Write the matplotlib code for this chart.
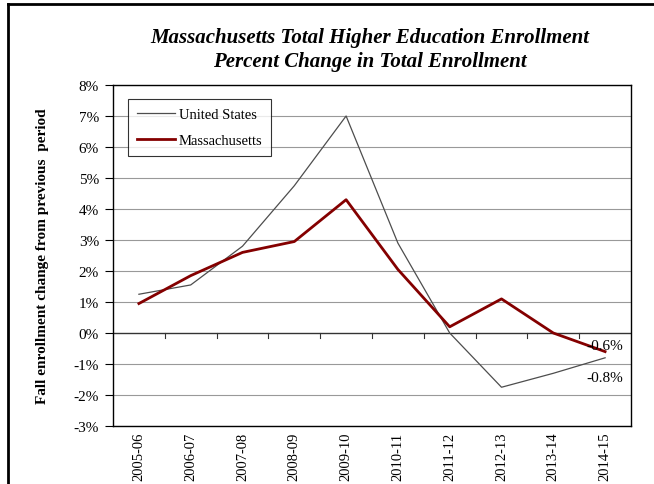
import matplotlib.pyplot as plt
from matplotlib.lines import Line2D

years = ["2005-06", "2006-07", "2007-08", "2008-09", "2009-10",
         "2010-11", "2011-12", "2012-13", "2013-14", "2014-15"]
us = [1.25, 1.55, 2.8, 4.75, 7.0, 2.9, 0.0, -1.75, -1.3, -0.8]
ma = [0.95, 1.85, 2.6, 2.95, 4.3, 2.05, 0.2, 1.1, 0.0, -0.6]
yticks = [-3, -2, -1, 0, 1, 2, 3, 4, 5, 6, 7, 8]

plt.rcParams["font.family"] = "Liberation Serif"

fig = plt.figure(figsize=(6.54, 4.85), dpi=100)
ax = fig.add_axes([113/654, 1-427/485, 518/654, 341/485])

x = list(range(len(years)))
ax.plot(x, us, color="#4d4d4d", lw=0.9, label="United States")
ax.plot(x, ma, color="#840000", lw=2.0, label="Massachusetts")

ax.set_xlim(-0.5, len(years)-0.5)
ax.set_ylim(-3, 8)
ax.set_yticks(yticks)
ax.set_yticklabels([f"{v}%" for v in yticks], fontsize=11)
for v in yticks:
    if v != 0:
        ax.axhline(v, color="#999999", lw=0.8, zorder=0)
ax.axhline(0, color="#333333", lw=1.0, zorder=1)
ax.tick_params(axis="y", length=6, direction="out", width=0.8, pad=4)

# x ticks at category boundaries on the zero line
for b in range(1, len(years)):
    ax.plot([b-0.5, b-0.5], [0, -0.15], color="#333333", lw=0.8)
ax.set_xticks(x)
ax.set_xticklabels(years, rotation=90, fontsize=10.5)
ax.tick_params(axis="x", length=0, pad=4)

for s in ax.spines.values():
    s.set_linewidth(1.0)

ax.text(9, -0.39, "-0.6%", fontsize=11, ha="center", va="center")
ax.text(9, -1.43, "-0.8%", fontsize=11, ha="center", va="center")

ax.set_ylabel("Fall enrollment change from previous  period", fontsize=11,
              fontweight="bold", labelpad=18)

fig.text(0.565, 1-38/485, "Massachusetts Total Higher Education Enrollment",
         fontsize=15, fontweight="bold", fontstyle="italic", ha="center", va="center")
fig.text(0.565, 1-62/485, "Percent Change in Total Enrollment",
         fontsize=15, fontweight="bold", fontstyle="italic", ha="center", va="center")

leg = ax.legend(loc="upper left", bbox_to_anchor=(15/518, 1-14/341), fontsize=10.5,
                frameon=True, fancybox=False, edgecolor="black", handlelength=2.6,
                handletextpad=0.3, borderpad=0.6, labelspacing=0.9, borderaxespad=0)
leg.get_frame().set_linewidth(0.8)

# page border
fig.add_artist(Line2D([8/654, 8/654], [0, 1-5/485], color="black", lw=2))
fig.add_artist(Line2D([8/654, 1], [1-5/485, 1-5/485], color="black", lw=2))

fig.savefig("out.png", dpi=100)
